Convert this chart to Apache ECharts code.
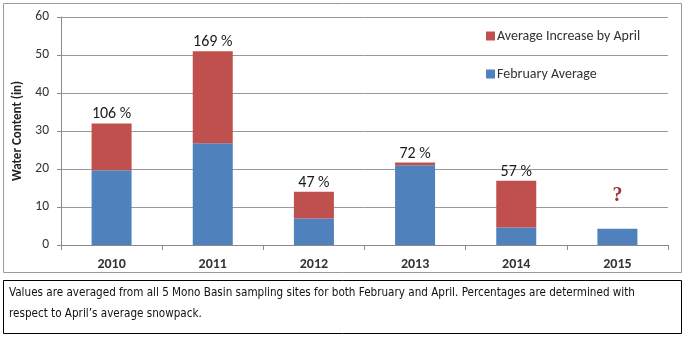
<!DOCTYPE html>
<html>
<head>
<meta charset="utf-8">
<script src="https://cdn.jsdelivr.net/npm/echarts@6/dist/echarts.min.js"></script>
<style>
html,body{margin:0;padding:0;background:#fff;}
#chart{width:685px;height:339px;}
</style>
</head>
<body>
<div id="chart"></div>
<script>
var categories = ['2010', '2011', '2012', '2013', '2014', '2015'];
var febAverage = [19.7, 26.8, 7.0, 21.0, 4.6, 4.3];
var increaseByApril = [12.3, 24.2, 7.0, 0.7, 12.3, 0];
var pctLabels = ['106 %', '169 %', '47 %', '72 %', '57 %', '?'];
var yTicks = [0, 10, 20, 30, 40, 50, 60];
var noteLines = [
  'Values are averaged from all 5 Mono Basin sampling sites for both February and April. Percentages are determined with',
  'respect to April\u2019s average snowpack.'
];

var FONT = 'Carlito, Lato, sans-serif';
var chart = echarts.init(document.getElementById('chart'), null, {renderer: 'canvas'});

var redData = increaseByApril.map(function (v, i) {
  var item = {value: v};
  if (pctLabels[i] === '?') {
    item.label = {
      show: true, formatter: '?', color: '#a0303a', fontFamily: 'Liberation Serif, serif',
      fontWeight: 'bold', fontSize: 20, offset: [0, -22]
    };
  }
  return item;
});

chart.setOption({
  animation: false,
  textStyle: {fontFamily: FONT},
  grid: {left: 61, right: 17, top: 17, bottom: 94, containLabel: false},
  legend: {
    orient: 'vertical', left: 481, top: 23, itemWidth: 9, itemHeight: 9, itemGap: 22,
    icon: 'rect',
    data: ['Average Increase by April', 'February Average'],
    textStyle: {fontFamily: FONT, fontSize: 14, color: '#333', lineHeight: 16, padding: [0, 0, 0, -3]}
  },
  xAxis: {
    type: 'category', data: categories,
    axisLine: {show: true, lineStyle: {color: '#8a8a8a', width: 1}},
    axisTick: {show: true, length: 5, interval: 0, alignWithLabel: false, lineStyle: {color: '#8a8a8a'}},
    axisLabel: {margin: 12, fontFamily: FONT, fontSize: 14, fontWeight: 'bold', color: '#333'}
  },
  yAxis: {
    type: 'value', min: yTicks[0], max: yTicks[yTicks.length - 1], interval: 10,
    name: 'Water Content (in)', nameLocation: 'middle', nameRotate: 90, nameGap: 36,
    nameTextStyle: {fontFamily: FONT, fontSize: 13, fontWeight: 'bold', color: '#222'},
    axisLine: {show: true, lineStyle: {color: '#8a8a8a', width: 1}},
    axisTick: {show: true, length: 4, inside: false, lineStyle: {color: '#8a8a8a'}},
    axisLabel: {margin: 12, fontFamily: FONT, fontSize: 13.5, color: '#333'},
    splitLine: {show: true, lineStyle: {color: '#999', width: 1}}
  },
  series: [
    {
      name: 'February Average', type: 'bar', stack: 'total', barWidth: 40,
      itemStyle: {color: '#4F81BD'},
      data: febAverage
    },
    {
      name: 'Average Increase by April', type: 'bar', stack: 'total', barWidth: 40,
      itemStyle: {color: '#C0504D'},
      label: {
        show: true, position: 'top', distance: 1, fontFamily: FONT, fontSize: 16, color: '#1a1a1a',
        formatter: function (p) { return pctLabels[p.dataIndex]; }
      },
      data: redData
    }
  ],
  graphic: [
    {type: 'rect', shape: {x: 3.5, y: 3.5, width: 678, height: 269}, style: {fill: null, stroke: '#9a9a9a', lineWidth: 1}, silent: true, z: -1},
    {type: 'rect', shape: {x: 3.5, y: 280.5, width: 678, height: 53}, style: {fill: '#fff', stroke: '#000', lineWidth: 1}, silent: true},
    {type: 'text', left: 9, top: 287, style: {text: noteLines[0], font: '11.6px "Liberation Sans Narrow", "DejaVu Sans Condensed", sans-serif', fill: '#111'}},
    {type: 'text', left: 9, top: 308, style: {text: noteLines[1], font: '11.6px "Liberation Sans Narrow", "DejaVu Sans Condensed", sans-serif', fill: '#111'}}
  ]
});
</script>
</body>
</html>
